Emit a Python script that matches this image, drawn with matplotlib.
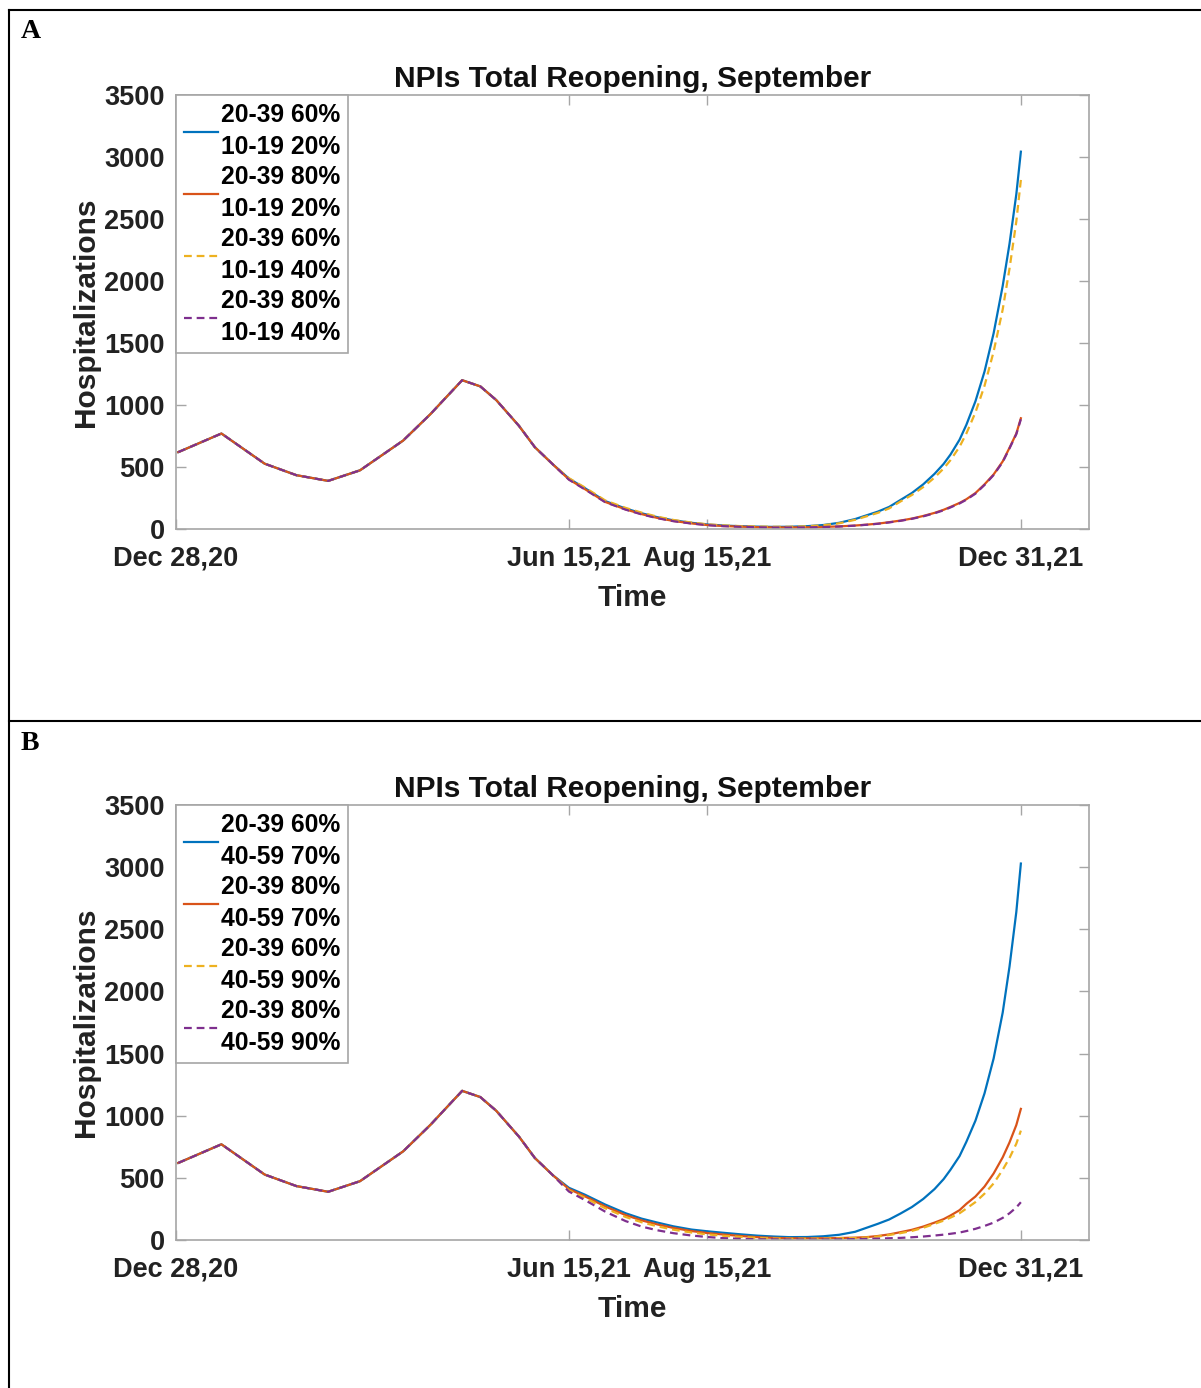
import matplotlib
matplotlib.use("Agg")
import matplotlib.pyplot as plt
from matplotlib.lines import Line2D

# ---- data (day index from Dec 28, 2020) ----
early_days = [1, 20, 39, 53, 67, 81, 100, 112, 126, 134, 141, 151, 158, 166]
early_hosp = [620, 770, 527, 434, 388, 473, 713, 926, 1200, 1150, 1040, 832, 660, 520]

tail_days = [173, 180, 189, 198, 205, 212, 219, 227, 234, 241, 249, 256, 263, 270,
             278, 285, 292, 299, 304, 309, 314, 319, 324, 329, 334, 338, 341, 345,
             348, 352, 356, 360, 364, 367, 370, 372]

# panel A: 20-39 / 10-19 coverage
a_blue = [407, 330, 225, 165, 127, 95, 70, 50, 36, 28, 22, 19, 17, 18,
          23, 32, 50, 80, 110, 140, 178, 234, 290, 360, 445, 525, 600, 720,
          840, 1030, 1270, 1578, 1960, 2300, 2700, 3043]
a_red = [400, 322, 218, 158, 120, 89, 65, 45, 32, 24, 19, 15, 13, 13,
         14, 17, 21, 28, 35, 43, 55, 68, 84, 105, 130, 155, 178, 210,
         240, 290, 360, 440, 545, 655, 770, 893]
a_yellow = [410, 335, 230, 170, 132, 99, 73, 52, 38, 29, 23, 20, 18, 18,
            22, 30, 46, 74, 102, 130, 166, 222, 274, 338, 415, 488, 555, 663,
            770, 940, 1155, 1430, 1770, 2100, 2480, 2815]
a_purple = [398, 320, 216, 156, 118, 87, 63, 44, 31, 23, 18, 14, 12, 12,
            13, 16, 20, 27, 34, 42, 53, 66, 82, 102, 127, 151, 174, 206,
            236, 285, 355, 435, 540, 650, 765, 885]

# panel B: 20-39 / 40-59 coverage
b_blue = [420, 365, 285, 215, 172, 140, 110, 84, 70, 58, 45, 35, 28, 23,
          24, 30, 42, 66, 98, 130, 165, 213, 265, 330, 410, 490, 565, 675,
          790, 960, 1180, 1460, 1830, 2200, 2640, 3029]
b_red = [410, 352, 270, 200, 158, 125, 97, 72, 56, 44, 32, 23, 17, 14,
         13, 14, 16, 19, 23, 32, 45, 63, 82, 108, 140, 168, 197, 240,
         291, 350, 430, 535, 665, 785, 925, 1055]
b_yellow = [400, 340, 255, 185, 143, 110, 83, 60, 45, 34, 24, 17, 12, 10,
            10, 11, 13, 16, 20, 28, 40, 55, 73, 98, 130, 156, 180, 215,
            253, 305, 373, 455, 565, 660, 775, 880]
b_purple = [390, 322, 228, 152, 108, 78, 55, 36, 24, 15, 9, 6, 5, 4,
            4, 4, 5, 7, 9, 11, 14, 17, 22, 28, 36, 43, 50, 60,
            72, 90, 113, 140, 178, 215, 262, 304]

labels_a = ["20-39 60%\n10-19 20%", "20-39 80%\n10-19 20%",
            "20-39 60%\n10-19 40%", "20-39 80%\n10-19 40%"]
labels_b = ["20-39 60%\n40-59 70%", "20-39 80%\n40-59 70%",
            "20-39 60%\n40-59 90%", "20-39 80%\n40-59 90%"]

tick_pos = [0, 173, 234, 372]
tick_labels = ["Dec 28,20", "Jun 15,21", "Aug 15,21", "Dec 31,21"]

colors = ["#0072BD", "#D95319", "#EDB120", "#7E2F8E"]
styles = ["-", "-", "--", "--"]

plt.rcParams['font.family'] = ['Liberation Sans', 'DejaVu Sans']
plt.rcParams['font.weight'] = 'bold'

W, H = 1201, 1388
fig = plt.figure(figsize=(W / 100, H / 100), dpi=100)


def draw_panel(rect, series, labels):
    ax = fig.add_axes(rect)
    days = early_days + tail_days
    for vals, c, ls, lab in zip(series, colors, styles, labels):
        line, = ax.plot(days, early_hosp + vals, color=c, linestyle=ls, lw=1.6, label=lab)
        if ls == "--":
            line.set_dashes((3.5, 2.2))
    ax.set_xlim(0, 402)
    ax.set_ylim(0, 3500)
    ax.set_yticks(range(0, 3501, 500))
    ax.set_xticks(tick_pos)
    ax.set_xticklabels(tick_labels)
    ax.tick_params(direction='in', length=7, width=1, color='#a6a6a6',
                   labelsize=19.5, labelcolor='#222222', top=True, right=True)
    ax.tick_params(axis='x', pad=12)
    ax.tick_params(axis='y', pad=8)
    for t in ax.get_xticklabels() + ax.get_yticklabels():
        t.set_fontweight('bold')
    for s in ax.spines.values():
        s.set_color('#a6a6a6')
        s.set_linewidth(1.2)
    ax.set_title("NPIs Total Reopening, September", fontsize=21.5, fontweight='bold',
                 color='#111111', pad=6)
    ax.set_xlabel("Time", fontsize=21.5, fontweight='bold', color='#222222', labelpad=9)
    ax.set_ylabel("Hospitalizations", fontsize=21.5, fontweight='bold', color='#222222', labelpad=3)
    leg = ax.legend(loc='upper left', bbox_to_anchor=(0, 1), borderaxespad=0,
                    handlelength=1.4, handletextpad=0.12, borderpad=0.32,
                    labelspacing=0.26, fancybox=False, framealpha=1,
                    prop={'weight': 'bold', 'size': 17.7})
    leg.get_frame().set_edgecolor('#a6a6a6')
    leg.get_frame().set_linewidth(1.2)
    for t in leg.get_texts():
        t.set_linespacing(1.41)
    return ax


draw_panel([176 / W, 1 - 529 / H, 913 / W, 434 / H],
           [a_blue, a_red, a_yellow, a_purple], labels_a)
draw_panel([176 / W, 1 - 1240 / H, 913 / W, 435 / H],
           [b_blue, b_red, b_yellow, b_purple], labels_b)

# table-like frame
fig.add_artist(Line2D([8.5 / W, 8.5 / W], [0, 1 - 10 / H], color='black', lw=1.5))
fig.add_artist(Line2D([8.5 / W, 1], [1 - 10 / H, 1 - 10 / H], color='black', lw=1.5))
fig.add_artist(Line2D([8.5 / W, 1], [1 - 721 / H, 1 - 721 / H], color='black', lw=1.5))

fig.text(21 / W, 1 - 31 / H, "A", family=['Liberation Serif', 'DejaVu Serif'],
         fontsize=20, fontweight='bold', va='center', ha='left')
fig.text(21 / W, 1 - 744 / H, "B", family=['Liberation Serif', 'DejaVu Serif'],
         fontsize=20, fontweight='bold', va='center', ha='left')

fig.savefig("out.png", dpi=100)
